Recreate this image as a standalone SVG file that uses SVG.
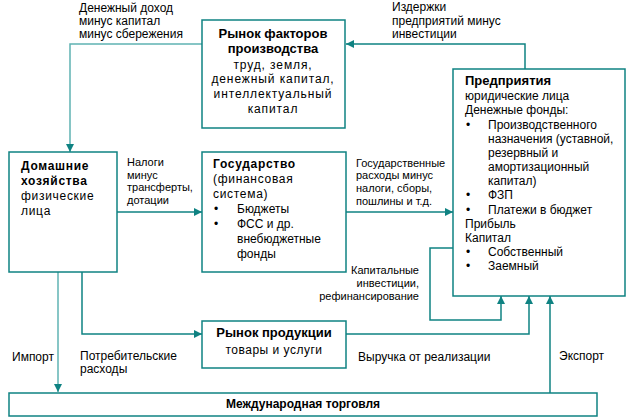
<svg xmlns="http://www.w3.org/2000/svg" width="639" height="420" viewBox="0 0 639 420">
<defs>
<style>
.box{fill:#fff;stroke:#0f8282;stroke-width:1.5}
.con{fill:none;stroke:#0f8282;stroke-width:1.5}
.lt{stroke:#5fb3b3}
text{font-family:"Liberation Sans",Arial,sans-serif;fill:#000}
.t{font-size:12px}
.b{font-size:12px;font-weight:bold}
.h{font-size:13px;font-weight:bold}
.l{font-size:11px}
.m{font-size:12px}
.sp{letter-spacing:0.7px}
.sw{letter-spacing:0.9px}
.c{text-anchor:middle}
</style>
<marker id="ah" markerWidth="8" markerHeight="8" refX="8" refY="4" orient="auto" markerUnits="userSpaceOnUse">
<path d="M0,0 L8,4 L0,8 z" fill="#0f8282"/>
</marker>
</defs>
<rect width="639" height="420" fill="#fff"/>
<g id="connectors">
<path class="con lt" d="M202,44 H70 V152" marker-end="url(#ah)"/>
<path class="con" d="M525,69 V44 H346" marker-end="url(#ah)"/>
<path class="con" d="M117,212 H202" marker-end="url(#ah)"/>
<path class="con" d="M346,212 H453" marker-end="url(#ah)"/>
<path class="con" d="M453,248 H430 V320 H501 V296" marker-end="url(#ah)"/>
<path class="con" d="M82,272 V334 H202" marker-end="url(#ah)"/>
<path class="con lt" d="M58,272 V392" marker-end="url(#ah)"/>
<path class="con" d="M346,334 H529 V296" marker-end="url(#ah)"/>
<path class="con" d="M550,393 V296" marker-end="url(#ah)"/>
<text class="m" x="79" y="12">Денежный доход</text>
<text class="m" x="79" y="25">минус капитал</text>
<text class="m" x="79" y="38">минус сбережения</text>
<text class="m" x="392" y="11">Издержки</text>
<text class="m" x="392" y="25">предприятий минус</text>
<text class="m" x="392" y="38">инвестиции</text>
<text class="l" x="127" y="166">Налоги</text>
<text class="l" x="127" y="179">минус</text>
<text class="l" x="127" y="191">трансферты,</text>
<text class="l" x="127" y="204">дотации</text>
<text class="l" x="356" y="167">Государственные</text>
<text class="l" x="356" y="179">расходы минус</text>
<text class="l" x="356" y="192">налоги, сборы,</text>
<text class="l" x="356" y="205">пошлины и т.д.</text>
<text class="l" x="419" y="274" text-anchor="end">Капитальные</text>
<text class="l" x="419" y="287" text-anchor="end">инвестиции,</text>
<text class="l" x="419" y="300" text-anchor="end">рефинансирование</text>
<text class="m" x="12" y="361">Импорт</text>
<text class="m" x="80" y="360">Потребительские</text>
<text class="m" x="80" y="373">расходы</text>
<text class="m" x="358" y="361">Выручка от реализации</text>
<text class="m" x="559" y="360">Экспорт</text>
</g>
<g id="factors">
<rect class="box" x="202" y="20" width="143" height="108"/>
<text class="h c" x="273" y="38">Рынок факторов</text>
<text class="h c" x="273" y="53">производства</text>
<text class="t c sw" x="273" y="69">труд, земля,</text>
<text class="t c sw" x="273" y="83">денежный капитал,</text>
<text class="t c sw" x="273" y="98">интеллектуальный</text>
<text class="t c sw" x="273" y="113">капитал</text>
</g>
<g id="households">
<rect class="box" x="9" y="152" width="108" height="120"/>
<text class="b sp" x="21" y="170">Домашние</text>
<text class="b sp" x="21" y="185">хозяйства</text>
<text class="t sp" x="21" y="200">физические</text>
<text class="t sp" x="21" y="215">лица</text>
</g>
<g id="state">
<rect class="box" x="202" y="152" width="144" height="120"/>
<text class="b sp" x="213" y="168">Государство</text>
<text class="t sp" x="213" y="183">(финансовая</text>
<text class="t sp" x="213" y="198">система)</text>
<text class="t" x="214" y="213">•</text>
<text class="t" x="237" y="213">Бюджеты</text>
<text class="t" x="214" y="228">•</text>
<text class="t" x="237" y="228">ФСС и др.</text>
<text class="t" x="237" y="243">внебюджетные</text>
<text class="t" x="237" y="258">фонды</text>
</g>
<g id="enterprises">
<rect class="box" x="453" y="69" width="172" height="227"/>
<text class="h" x="465" y="85">Предприятия</text>
<text class="t" x="465" y="100">юридические лица</text>
<text class="t" x="465" y="114">Денежные фонды:</text>
<text class="t" x="466" y="129">•</text>
<text class="t" x="488" y="129">Производственного</text>
<text class="t" x="488" y="143">назначения (уставной,</text>
<text class="t" x="488" y="157">резервный и</text>
<text class="t" x="488" y="171">амортизационный</text>
<text class="t" x="488" y="185">капитал)</text>
<text class="t" x="466" y="199">•</text>
<text class="t" x="488" y="199">ФЗП</text>
<text class="t" x="466" y="214">•</text>
<text class="t" x="488" y="214">Платежи в бюджет</text>
<text class="t" x="465" y="228">Прибыль</text>
<text class="t" x="465" y="242">Капитал</text>
<text class="t" x="466" y="256">•</text>
<text class="t" x="488" y="256">Собственный</text>
<text class="t" x="466" y="270">•</text>
<text class="t" x="488" y="270">Заемный</text>
</g>
<g id="products">
<rect class="box" x="202" y="321" width="144" height="47"/>
<text class="h c" x="274" y="337">Рынок продукции</text>
<text class="t c" x="274" y="354" style="letter-spacing:0.5px">товары и услуги</text>
</g>
<g id="trade">
<rect class="box" x="9" y="393" width="588" height="23"/>
<text class="b c" x="303" y="408">Международная торговля</text>
</g>
</svg>
